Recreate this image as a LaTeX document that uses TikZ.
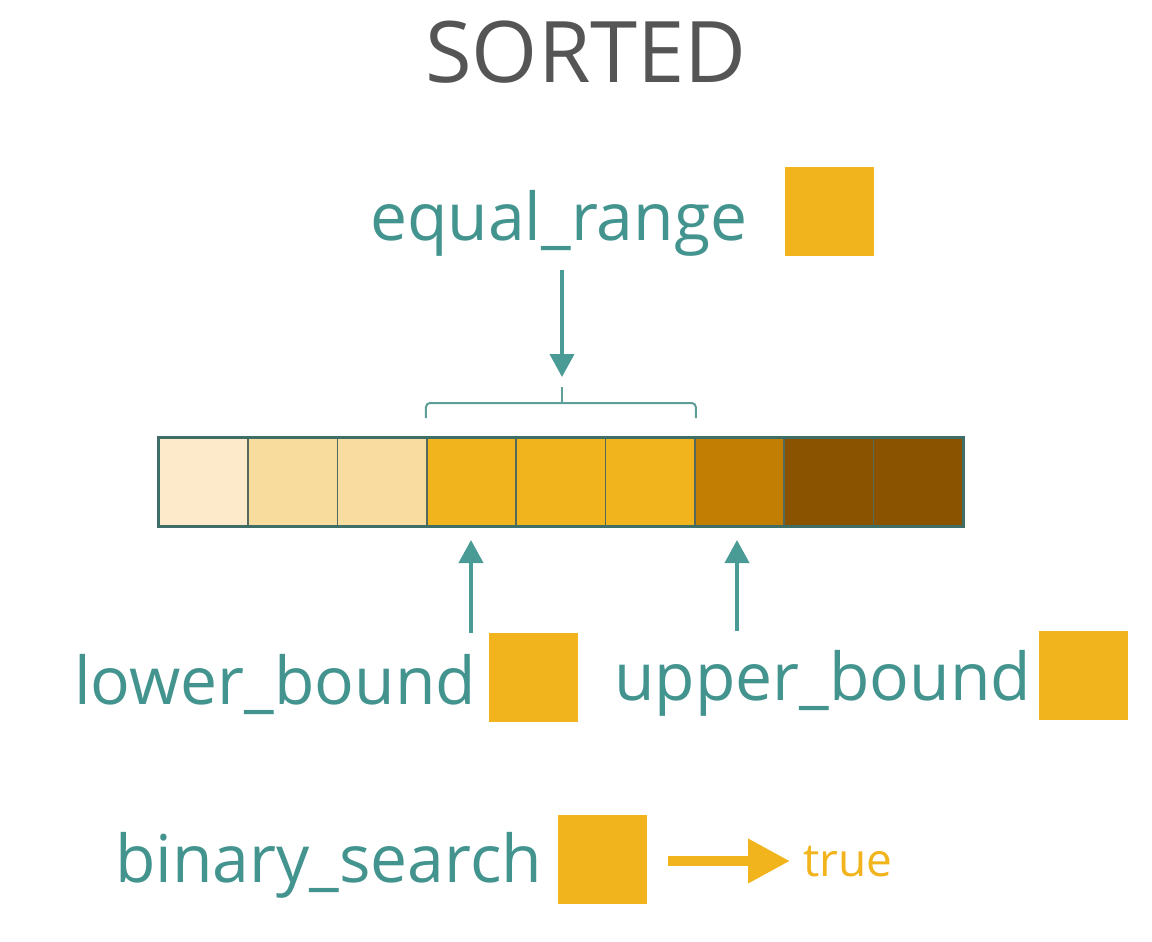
\documentclass[tikz,border=0pt]{standalone}
\usepackage{fontspec}
\setmainfont{Open Sans}
\usetikzlibrary{arrows.meta}
\definecolor{tealtext}{HTML}{43948F}
\definecolor{tealarrow}{HTML}{4A9A96}
\definecolor{tealbrace}{HTML}{5E9E98}
\definecolor{cellline}{HTML}{3F6E66}
\definecolor{innerline}{HTML}{52695C}
\definecolor{titlegray}{HTML}{555555}
\definecolor{gold}{HTML}{F2B41C}
\definecolor{cA}{HTML}{FCEACB}
\definecolor{cB}{HTML}{F8DC9E}
\definecolor{cC}{HTML}{F8DCA0}
\definecolor{cD}{HTML}{C27D03}
\definecolor{cE}{HTML}{8A5300}
\tikzset{
  lbl/.style={anchor=base west, inner sep=0pt, text=tealtext, font=\fontsize{66}{70}\selectfont},
  goldsq/.style={fill=gold, draw=none, inner sep=0pt, minimum width=89pt, minimum height=89pt, anchor=north west},
  cellbox/.style={draw=innerline, line width=1.8pt, inner sep=0pt, minimum width=89.33pt, minimum height=88pt, anchor=north west},
  tealarr/.style={draw=tealarrow, line width=4pt, -{Triangle[width=24pt,length=23pt]}},
  bracestyle/.style={draw=tealbrace, line width=2pt, rounded corners=4pt},
  goldarr/.style={draw=gold, line width=10pt, -{Triangle[width=42pt,length=42pt]}}
}
\begin{document}
\begin{tikzpicture}[x=1pt,y=-1pt]
\useasboundingbox[fill=white] (0,0) rectangle (1152,942);

\node[anchor=base, inner sep=0pt, text=titlegray, font=\fontsize{85}{92}\selectfont] (title) at (586,82) {SORTED};

% array cells
\foreach \i/\c in {1/cA,2/cB,3/cC,4/gold,5/gold,6/gold,7/cD,8/cE,9/cE}{
  \node[cellbox, fill=\c] (c\i) at ({158+(\i-1)*89.33},437) {};
}
\draw[cellline, line width=3pt] (c1.north west) rectangle (c9.south east);

% brace over equal range
\draw[bracestyle] (c4.north west |- 0,418) -- (c4.north west |- 0,403) -- (c6.north east |- 0,403) -- (c6.north east |- 0,418);
\coordinate (bracetip) at (562,387);
\draw[tealbrace, line width=2pt] (562,403) -- (bracetip);

% labels and squares
\node[lbl] (eqlbl) at (370,240) {equal\_range};
\node[goldsq] (eqsq) at (785,167) {};
\node[lbl] (lowlbl) at (74,704) {lower\_bound};
\node[goldsq] (lowsq) at (489,633) {};
\node[lbl] (uplbl) at (614,700) {upper\_bound};
\node[goldsq] (upsq) at (1039,631) {};
\node[lbl] (binlbl) at (115,882) {binary\_search};
\node[goldsq] (binsq) at (558,815) {};
\node[anchor=base west, inner sep=0pt, text=gold, font=\fontsize{46}{50}\selectfont] (truelbl) at (803,876) {true};

% arrows
\coordinate (eqtail) at (562,270);
\coordinate (eqhead) at (562,377);
\draw[tealarr] (eqtail) -- (eqhead);

\coordinate (lowtail) at (471,633);
\coordinate (lowhead) at (471,540);
\draw[tealarr] (lowtail) -- (lowhead);

\coordinate (uptail) at (737,631);
\coordinate (uphead) at (737,540);
\draw[tealarr] (uptail) -- (uphead);

\coordinate (bintail) at (668,861);
\coordinate (binhead) at (790,861);
\draw[goldarr] (bintail) -- (binhead);
\end{tikzpicture}
\end{document}
